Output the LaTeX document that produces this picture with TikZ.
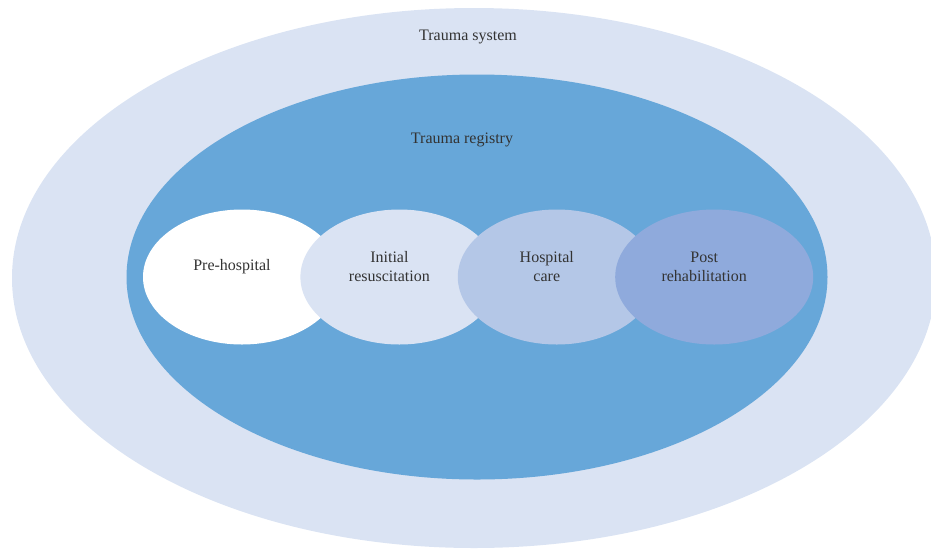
\documentclass[tikz,border=0pt]{standalone}
\usepackage{fontspec}
\setmainfont{Liberation Serif}
\usetikzlibrary{positioning,shapes.geometric}
\definecolor{systemblue}{HTML}{DAE3F3}
\definecolor{registryblue}{HTML}{67A7D9}
\definecolor{resusblue}{HTML}{DAE3F3}
\definecolor{careblue}{HTML}{B4C7E7}
\definecolor{rehabblue}{HTML}{8FAADC}
\definecolor{textgray}{HTML}{333333}

\begin{document}
\begin{tikzpicture}[
  x=1pt, y=-1pt,
  font=\fontsize{16}{19}\selectfont,
  node distance=-41pt,
  zone/.style={
    ellipse,
    draw=none,
    inner sep=0pt
  },
  phase/.style={
    ellipse,
    draw=none,
    inner sep=0pt,
    minimum width=198pt,
    minimum height=135pt
  },
  caption/.style={text=textgray, align=center, inner sep=0pt},
  phasetext/.style={caption, xshift=-10pt, yshift=10pt}
]
\useasboundingbox (0,0) rectangle (931,550);

\node[zone, fill=systemblue, minimum width=924pt, minimum height=540pt] (system) at (474,278) {};
\node[zone, fill=registryblue, minimum width=701pt, minimum height=405pt] (registry) at (477,277) {};

\node[phase, fill=white] (prehosp) at (242,277) {};
\node[phase, fill=resusblue, right=of prehosp] (resus) {};
\node[phase, fill=careblue, right=of resus] (care) {};
\node[phase, fill=rehabblue, right=of care] (rehab) {};

\node[caption] at (468,37) {Trauma system};
\node[caption] at (462,140) {Trauma registry};
\node[phasetext] at (prehosp.center) {Pre-hospital};
\node[phasetext] at (resus.center) {Initial\\resuscitation};
\node[phasetext] at (care.center) {Hospital\\care};
\node[phasetext] at (rehab.center) {Post\\rehabilitation};

\end{tikzpicture}
\end{document}
